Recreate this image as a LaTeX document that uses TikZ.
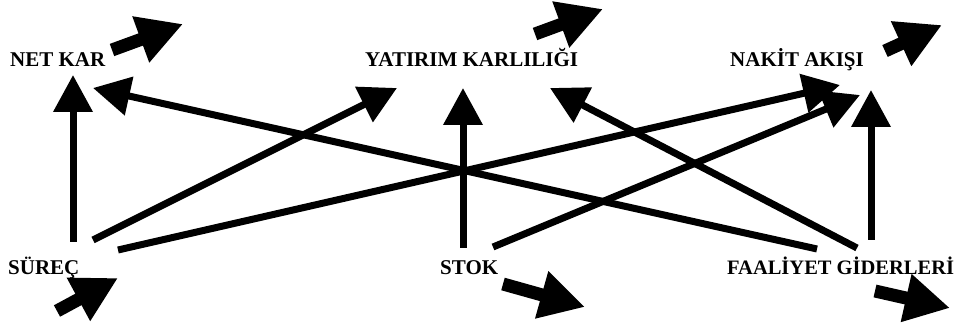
\documentclass[tikz,border=0pt]{standalone}
\usepackage{fontspec}
\setmainfont{Liberation Serif}
\usetikzlibrary{arrows.meta}
\begin{document}
\begin{tikzpicture}[x=1pt,y=-1pt,
  lbl/.style={font=\bfseries\fontsize{21}{25}\selectfont, anchor=base west, inner sep=0pt},
  longarrow/.style={line width=7pt, -{Triangle[length=37pt,width=38pt]}},
  stubarrow/.style={line width=13pt, -{Triangle[length=45pt,width=46pt]}}]
\useasboundingbox (0,0) rectangle (954,323);
% labels
\node[lbl] (netkar) at (10,67) {NET KAR};
\node[lbl] (yatirim) at (365,67) {YATIRIM KARLILIĞI};
\node[lbl] (nakit) at (730,67) {NAKİT AKIŞI};
\node[lbl] (surec) at (8,275) {SÜREÇ};
\node[lbl] (stok) at (440,275) {STOK};
\node[lbl, font=\bfseries\fontsize{20.5}{25}\selectfont] (faal) at (727,275) {FAALİYET GİDERLERİ};
% connector end points
\coordinate (sA) at (73,242);   \coordinate (tA) at (73,75);
\coordinate (sB) at (463,248);  \coordinate (tB) at (463,88);
\coordinate (sC) at (871,240);  \coordinate (tC) at (871,90);
\coordinate (sD) at (93,240);   \coordinate (tD) at (397,88);
\coordinate (sE) at (118,250);  \coordinate (tE) at (840,85);
\coordinate (sF) at (493,247);  \coordinate (tF) at (860,95);
\coordinate (sG) at (817,249);  \coordinate (tG) at (93,88);
\coordinate (sH) at (857,248);  \coordinate (tH) at (550,88);
% stub arrows
\coordinate (n1) at (112,50);  \coordinate (n2) at (183,24);
\coordinate (y1) at (535,34);  \coordinate (y2) at (603,9);
\coordinate (k1) at (885,51);  \coordinate (k2) at (942,25);
\coordinate (s1) at (57,311);  \coordinate (s2) at (118,278);
\coordinate (o1) at (503,284); \coordinate (o2) at (585,307);
\coordinate (f1) at (875,291); \coordinate (f2) at (950,308);
% long arrows
\draw[longarrow] (sA) -- (tA);
\draw[longarrow] (sB) -- (tB);
\draw[longarrow] (sC) -- (tC);
\draw[longarrow] (sD) -- (tD);
\draw[longarrow] (sE) -- (tE);
\draw[longarrow] (sF) -- (tF);
\draw[longarrow] (sG) -- (tG);
\draw[longarrow] (sH) -- (tH);
% stub arrows
\draw[stubarrow] (n1) -- (n2);
\draw[stubarrow] (y1) -- (y2);
\draw[stubarrow] (k1) -- (k2);
\draw[stubarrow] (s1) -- (s2);
\draw[stubarrow] (o1) -- (o2);
\draw[stubarrow] (f1) -- (f2);
\end{tikzpicture}
\end{document}
